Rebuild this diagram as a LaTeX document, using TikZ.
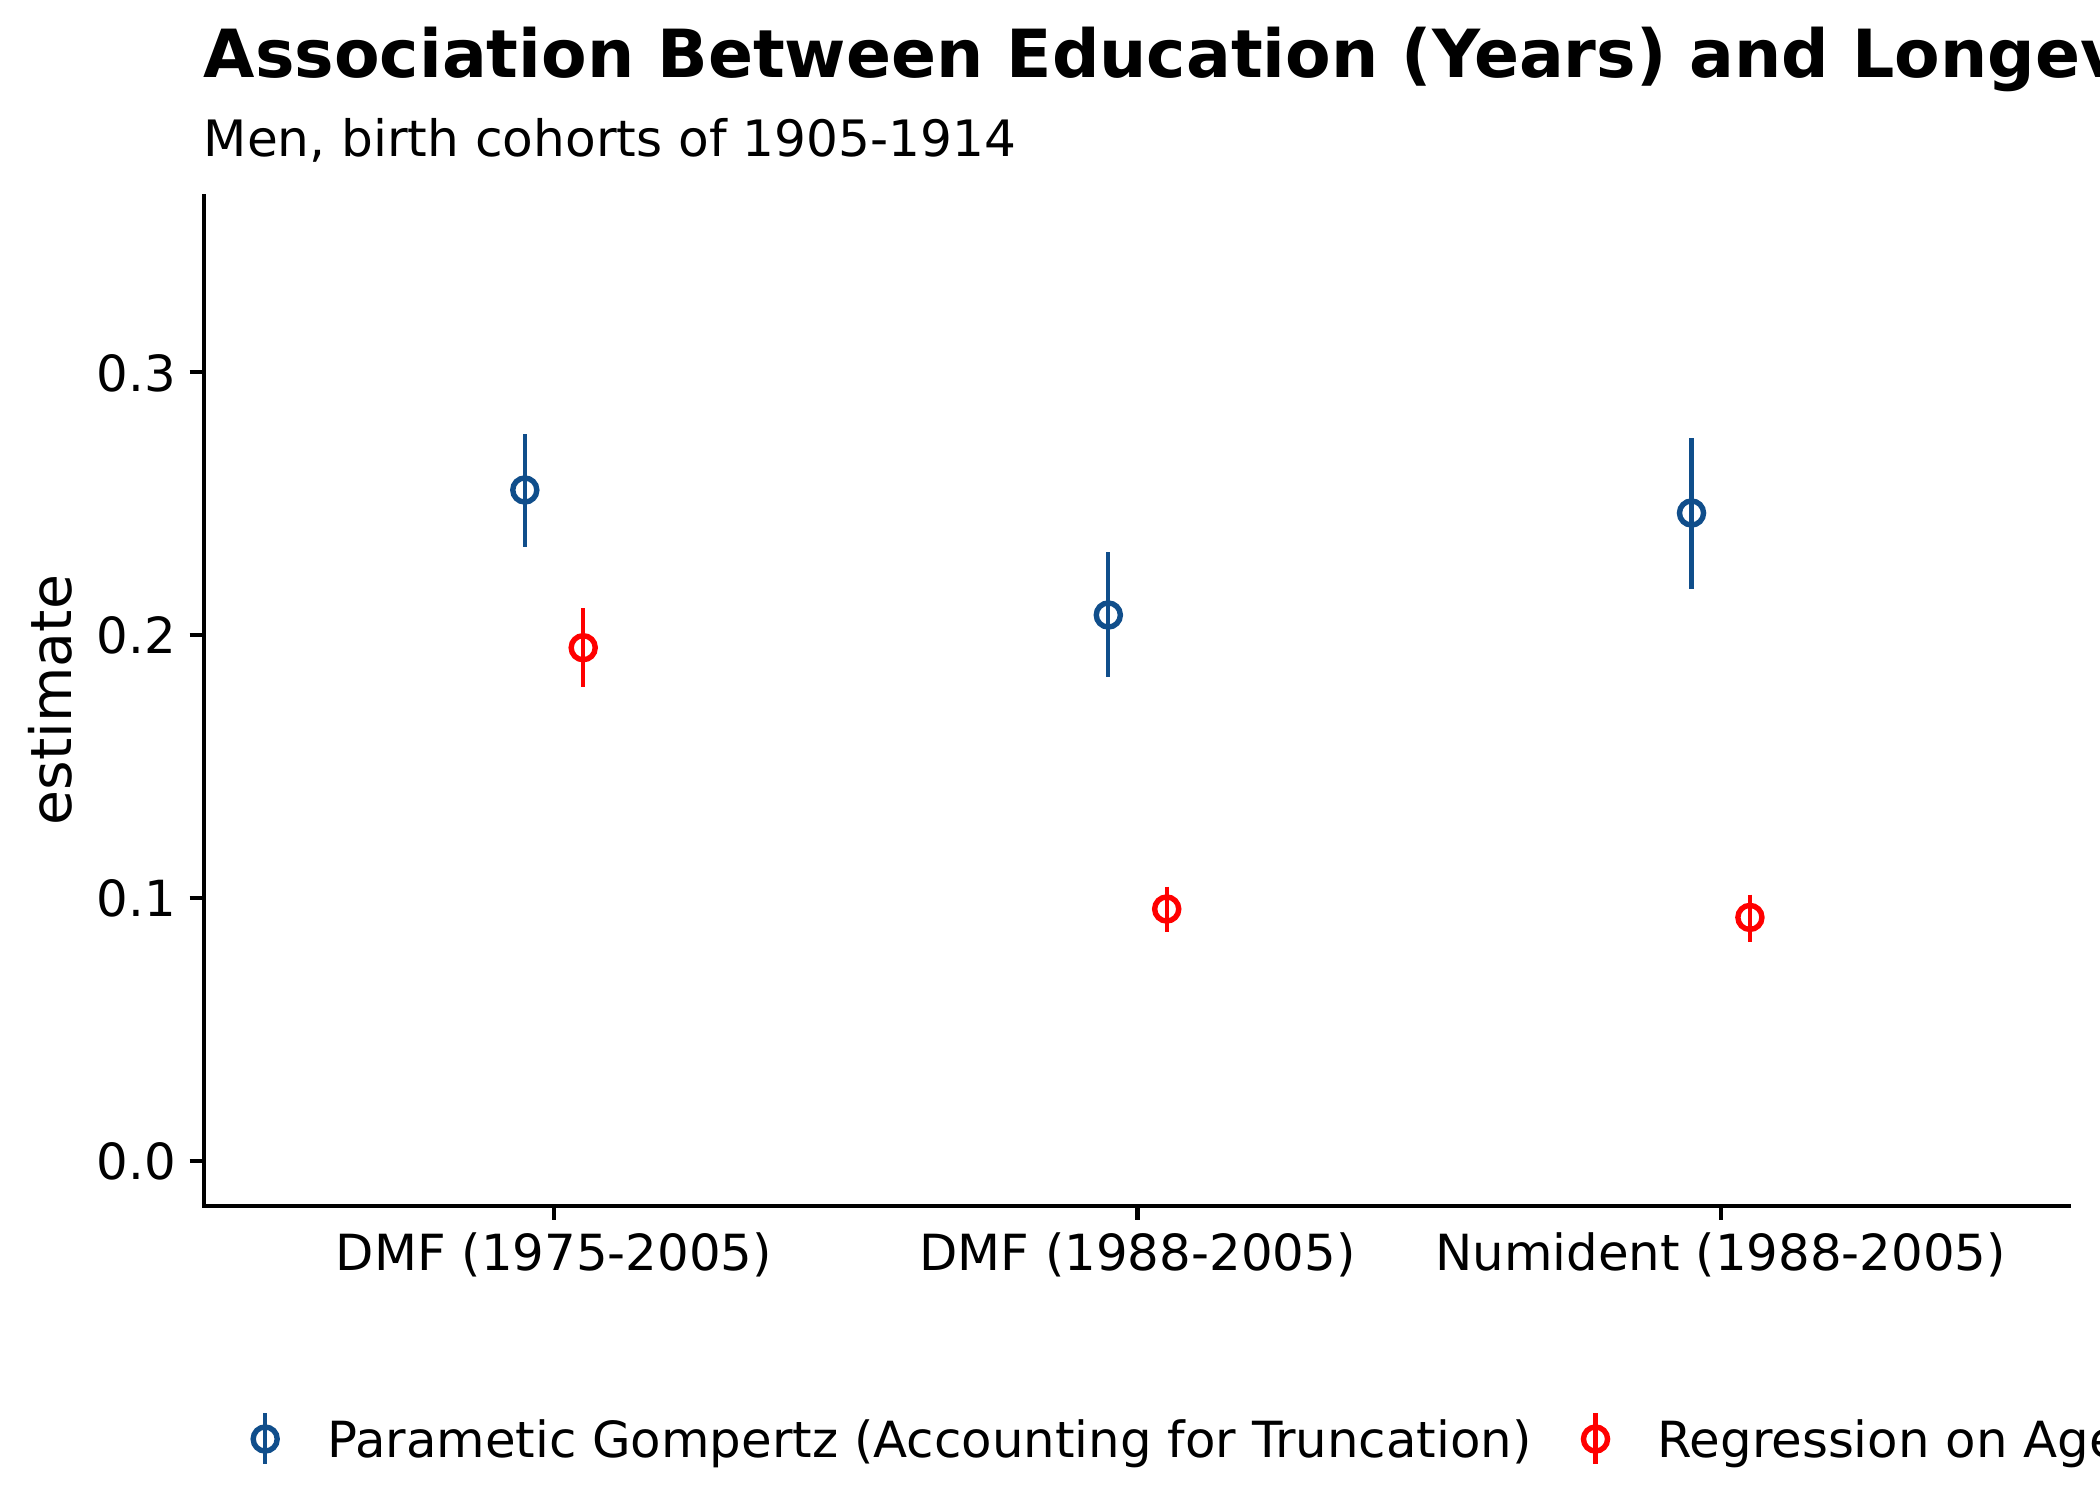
\documentclass[tikz,border=0pt]{standalone}
\usepackage{fontspec}
\setmainfont{DejaVu Sans}
\definecolor{gblue}{HTML}{104E8B}
\definecolor{rred}{HTML}{FF0000}
\begin{document}
\begin{tikzpicture}[x=0.2409pt,y=-0.2409pt,
  axisline/.style={line width=1.0pt,black},
  tickline/.style={line width=1.0pt,black},
  txt/.style={inner sep=0pt,font=\fontsize{12}{14}\selectfont},
  ebar/.style={line width=1.05pt},
  est/.style={circle,draw,line width=1.3pt,inner sep=0pt,minimum size=5.8pt},
  gomp/.style={gblue},
  regr/.style={rred}]
\useasboundingbox (0,0) rectangle (2100,1500);
% titles
\node[anchor=base west,inner sep=0pt,font=\bfseries\fontsize{16}{19}\selectfont] (title) at (203,77.7) {Association Between Education (Years) and Longevity};
\node[txt,anchor=base west,font=\fontsize{12.08}{14}\selectfont] (subtitle) at (203,156) {Men, birth cohorts of 1905-1914};
% axes
\coordinate (ytop) at (203.6,194);
\coordinate (origin) at (203.6,1206);
\coordinate (xend) at (2071,1206);
\draw[axisline] (ytop) -- (origin) -- (xend);
% y ticks
\foreach \v/\lab [count=\i] in {1161/0.0,898.1/0.1,635.2/0.2,372.3/0.3}{
  \draw[tickline] (189.5,\v) -- (203.6,\v);
  \node[txt,anchor=base east] (ylab\i) at (177,\v+18.7) {\lab};
}
\node[inner sep=0pt,rotate=90,anchor=base,font=\fontsize{13.7}{16}\selectfont] (ytitle) at (71.7,700) {estimate};
% x ticks
\foreach \x/\lab [count=\i] in {554/DMF (1975-2005),1137.5/DMF (1988-2005),1720.7/Numident (1988-2005)}{
  \draw[tickline] (\x,1206) -- (\x,1220);
  \node[txt,anchor=base] (xlab\i) at (\x,1270) {\lab};
}
% estimates: Gompertz
\foreach \x/\lo/\c/\hi [count=\i] in {524.8/434/490/546.7,1108.3/552.3/615/676.7,1691.5/438/513/589}{
  \coordinate (gtop\i) at (\x,\lo);
  \coordinate (gbot\i) at (\x,\hi);
  \draw[ebar,gomp] (gtop\i) -- (gbot\i);
  \node[est,gomp] (g\i) at (\x,\c) {};
}
% estimates: Regression
\foreach \x/\lo/\c/\hi [count=\i] in {583.2/608.3/647.7/687.3,1166.7/886.7/909/932,1749.9/894.6/917.4/941.5}{
  \coordinate (rtop\i) at (\x,\lo);
  \coordinate (rbot\i) at (\x,\hi);
  \draw[ebar,regr] (rtop\i) -- (rbot\i);
  \node[est,regr] (r\i) at (\x,\c) {};
}
% legend
\coordinate (lgt) at (265.2,1413);
\coordinate (lgb) at (265.2,1464);
\draw[ebar,gomp] (lgt) -- (lgb);
\node[est,gomp] (lg) at (265.2,1439) {};
\node[txt,anchor=base west] (lgtext) at (326.5,1457.3) {Parametic Gompertz (Accounting for Truncation)};
\coordinate (lrt) at (1595.5,1413);
\coordinate (lrb) at (1595.5,1464);
\draw[ebar,regr] (lrt) -- (lrb);
\node[est,regr] (lr) at (1595.5,1439) {};
\node[txt,anchor=base west] (lrtext) at (1656.5,1457.3) {Regression on Age};
\end{tikzpicture}
\end{document}
